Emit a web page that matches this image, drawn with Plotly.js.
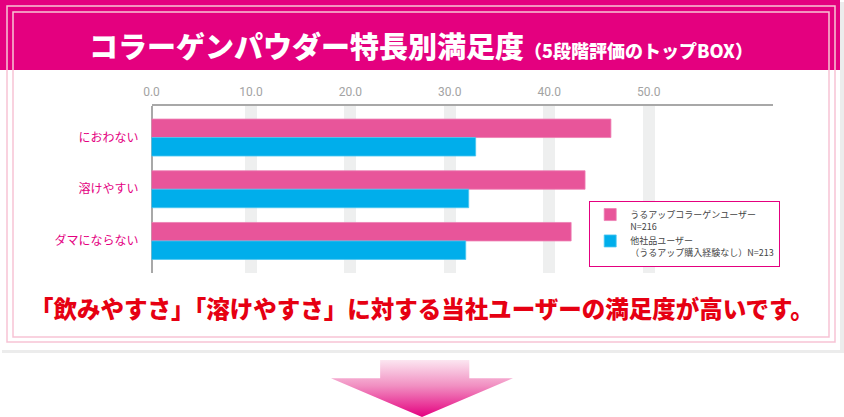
<!DOCTYPE html>
<html lang="ja">
<head>
<meta charset="utf-8">
<script src="https://cdn.plot.ly/plotly-3.0.1.min.js"></script>
<style>
  html, body { margin: 0; padding: 0; background: #fff; }
  #chart { width: 844px; height: 417px; }
</style>
</head>
<body>
<div id="chart"></div>
<script>
"use strict";

// Data
const categories = ["におわない", "溶けやすい", "ダマにならない"];
const uruUpUsers = [46.2, 43.6, 42.2];
const otherUsers = [32.6, 31.9, 31.6];
const seriesNames = [
  "うるアップコラーゲンユーザー<br>N=216",
  "他社品ユーザー<br>（うるアップ購入経験なし）N=213",
];
const xTickVals = [0, 10, 20, 30, 40, 50];
const xTickText = ["0.0", "10.0", "20.0", "30.0", "40.0", "50.0"];

const titleMain = "コラーゲンパウダー特長別満足度";
const titleSub = "（5段階評価のトップBOX）";
const conclusion = "「飲みやすさ」「溶けやすさ」に対する当社ユーザーの満足度が高いです。";

// Decorative arrow outline (unit box)
const arrowX = [0.27, 0.76, 0.76, 1, 0.5, 0, 0.27, 0.27];
const arrowY = [1, 1, 0.68, 0.68, 0, 0.68, 0.68, 1];

/* ── helpers: page pixels -> paper coords (margins are zero) ─────────── */
const W = 844, H = 417;
const px = (x) => x / W;
const py = (y) => 1 - y / H;

const JP = "'Noto Sans CJK JP', 'Noto Sans', sans-serif";
const PINK = "#e8559a";
const BLUE = "#00aeeb";
const MAGENTA = "#e4007f";
const FRAME = "#f7c3d5";

function rect(x0, y0, x1, y1, style) {
  return Object.assign(
    {
      type: "rect",
      xref: "paper",
      yref: "paper",
      x0: px(x0),
      x1: px(x1),
      y0: py(y1),
      y1: py(y0),
      layer: "below",
    },
    style,
  );
}

function label(x, y, text, font) {
  return {
    xref: "paper",
    yref: "paper",
    x: px(x),
    y: py(y),
    xanchor: "center",
    yanchor: "middle",
    showarrow: false,
    text: text,
    font: font,
  };
}

const traces = [
  {
    type: "bar",
    orientation: "h",
    name: seriesNames[0],
    y: categories,
    x: uruUpUsers,
    marker: { color: PINK, line: { color: "#ee7fb2", width: 0.8 } },
    hoverinfo: "x",
  },
  {
    type: "bar",
    orientation: "h",
    name: seriesNames[1],
    y: categories,
    x: otherUsers,
    marker: { color: BLUE, line: { color: "#4cc6f0", width: 0.8 } },
    hoverinfo: "x",
  },
  {
    type: "scatter",
    mode: "lines",
    x: arrowX,
    y: arrowY,
    xaxis: "x2",
    yaxis: "y2",
    fill: "toself",
    fillgradient: {
      type: "vertical",
      colorscale: [
        [0, MAGENTA],
        [0.55, "#f190c2"],
        [1, "#fce6f1"],
      ],
    },
    line: { width: 0 },
    showlegend: false,
    hoverinfo: "skip",
  },
];

const titleText =
  titleMain + "<span style='font-size:18px'>" + titleSub + "</span>";

const layout = {
  width: W,
  height: H,
  margin: { l: 0, r: 0, t: 0, b: 0 },
  paper_bgcolor: "#ffffff",
  plot_bgcolor: "rgba(0,0,0,0)",
  font: { family: JP, color: "#444" },
  barmode: "group",
  bargap: 0.285,
  bargroupgap: 0,
  xaxis: {
    domain: [px(151.5), px(773)],
    range: [0, 62.5],
    side: "top",
    tickvals: xTickVals,
    ticktext: xTickText,
    tickfont: { family: "Roboto, sans-serif", size: 12, color: "#a3a3a3" },
    ticks: "",
    ticklabelstandoff: 3,
    showgrid: true,
    gridcolor: "#eeefef",
    gridwidth: 12,
    zeroline: true,
    zerolinecolor: "#a8a8a8",
    zerolinewidth: 2,
    showline: true,
    linecolor: "#a8a8a8",
    linewidth: 2.5,
    fixedrange: true,
  },
  yaxis: {
    domain: [py(273), py(106)],
    range: [2.62, -0.61],
    type: "category",
    tickfont: { family: JP, size: 12, color: MAGENTA },
    ticks: "",
    ticklabelstandoff: 12,
    showgrid: false,
    zeroline: false,
    showline: false,
    fixedrange: true,
  },
  xaxis2: {
    domain: [px(331), px(513)],
    range: [0, 1],
    visible: false,
    fixedrange: true,
  },
  yaxis2: {
    domain: [py(417), py(360)],
    range: [0, 1],
    visible: false,
    fixedrange: true,
    anchor: "x2",
  },
  legend: {
    x: px(589),
    y: py(201),
    xanchor: "left",
    yanchor: "top",
    bgcolor: "#ffffff",
    bordercolor: MAGENTA,
    borderwidth: 1.2,
    font: { family: JP, size: 9, color: "#444" },
    tracegroupgap: 0,
    itemwidth: 30,
    valign: "top",
    traceorder: "normal",
  },
  shapes: [
    // box shadow, white card, title banner
    rect(2, 2, 844, 353, { fillcolor: "#ececec", line: { width: 0 } }),
    rect(0, 0, 840, 350, { fillcolor: "#ffffff", line: { width: 0 } }),
    rect(0, 0, 840, 70, { fillcolor: MAGENTA, line: { width: 0 } }),
    // double frame lines
    rect(7, 6, 835, 342, { line: { color: FRAME, width: 1.5 } }),
    rect(13, 12, 829, 337, { line: { color: FRAME, width: 1.5 } }),
  ],
  annotations: [
    label(421, 45, titleText, { family: JP, size: 29, color: "#ffffff", weight: 900 }),
    label(422, 308, conclusion, { family: JP, size: 23.5, color: "#e60012", weight: 900 }),
  ],
  showlegend: true,
};

Plotly.newPlot("chart", traces, layout, { displayModeBar: false, staticPlot: true });
</script>
</body>
</html>
